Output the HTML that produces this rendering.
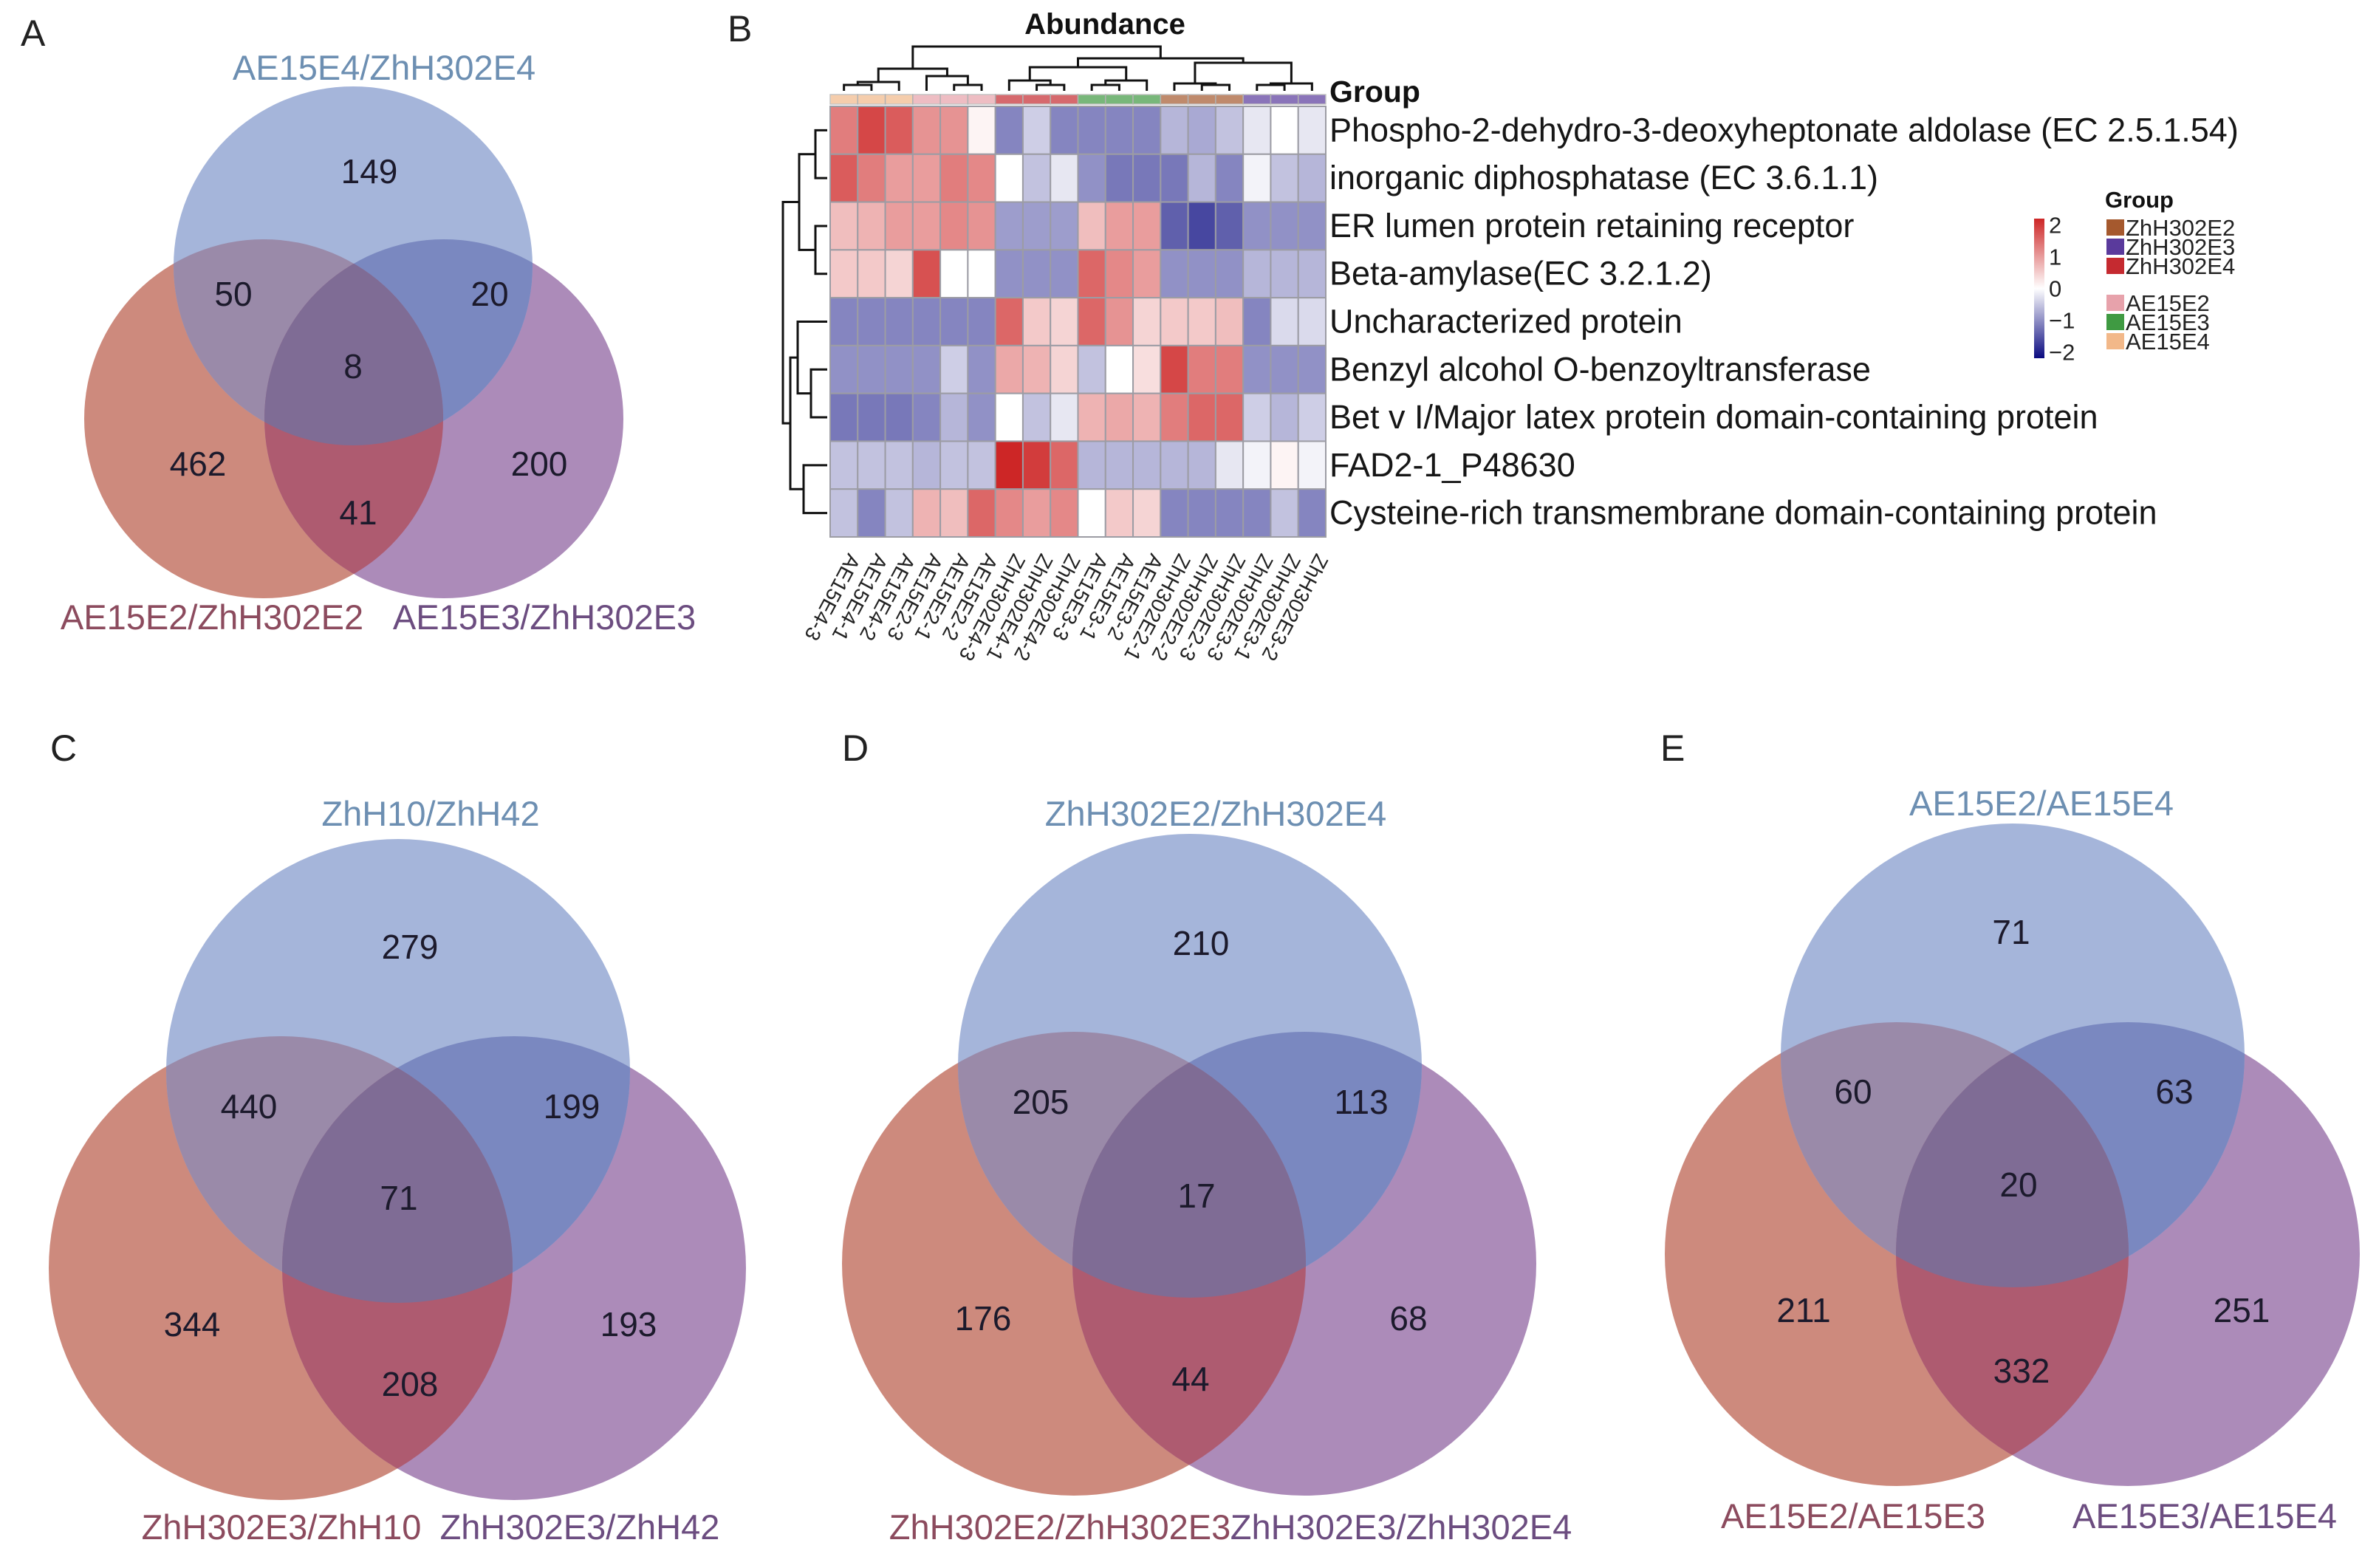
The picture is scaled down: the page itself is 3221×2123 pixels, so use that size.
<!DOCTYPE html>
<html><head><meta charset="utf-8">
<style>
html,body{margin:0;padding:0;background:#fff;}
svg{display:block;font-family:"Liberation Sans",Arial,sans-serif;}
</style></head>
<body>
<svg id="fig" width="3221" height="2123" viewBox="0 0 3221 2123" xmlns="http://www.w3.org/2000/svg">
<rect width="3221" height="2123" fill="#fff"/>
<g id="venns"></g>
<g id="heat"></g>
</svg>
<script>
// ---------- Venn data ----------
const vennLetters = ["A","C","D","E"];
const vennTopLabels = ["AE15E4/ZhH302E4","ZhH10/ZhH42","ZhH302E2/ZhH302E4","AE15E2/AE15E4"];
const vennLeftLabels = ["AE15E2/ZhH302E2","ZhH302E3/ZhH10","ZhH302E2/ZhH302E3","AE15E2/AE15E3"];
const vennRightLabels = ["AE15E3/ZhH302E3","ZhH302E3/ZhH42","ZhH302E3/ZhH302E4","AE15E3/AE15E4"];
// counts: [topOnly, top&left, top&right, all, leftOnly, left&right, rightOnly]
const vennCountsA = [149,50,20,8,462,41,200];
const vennCountsC = [279,440,199,71,344,208,193];
const vennCountsD = [210,205,113,17,176,44,68];
const vennCountsE = [71,60,63,20,211,332,251];
const vennCounts = [vennCountsA,vennCountsC,vennCountsD,vennCountsE];

// layout (geometry, not data)
const vennGeom = [
 {letter:[28,62], top:[478,360], left:[357,567], right:[601,567], r:243, tl:[520,108], bl:[287,852], br:[737,852],
  nums:[[500,232],[316,398],[663,398],[478,496],[268,628],[485,694],[730,628]]},
 {letter:[68,1030], top:[539,1450], left:[380,1717], right:[696,1717], r:314, tl:[583,1118], bl:[381,2084], br:[785,2084],
  nums:[[555,1282],[337,1498],[774,1498],[540,1622],[260,1793],[555,1874],[851,1793]]},
 {letter:[1140,1030], top:[1611,1443], left:[1454,1711], right:[1766,1711], r:314, tl:[1646,1118], bl:[1435,2084], br:[1897,2084],
  nums:[[1626,1277],[1409,1492],[1843,1492],[1620,1619],[1331,1785],[1612,1867],[1907,1785]]},
 {letter:[2248,1030], top:[2725,1429], left:[2568,1698], right:[2881,1698], r:314, tl:[2764,1104], bl:[2509,2069], br:[2985,2069],
  nums:[[2723,1262],[2509,1478],[2944,1478],[2733,1604],[2442,1774],[2737,1856],[3035,1774]]}
];
const regionColors = {top:"#a5b5da", left:"#cd8a7d", right:"#ac8bb9", tl:"#9a8aa9", tr:"#7a88c0", lr:"#ae5b70", all:"#7f6c95"};

const NS="http://www.w3.org/2000/svg";
function mk(tag, attrs, parent){const e=document.createElementNS(NS,tag);for(const k in attrs)e.setAttribute(k,attrs[k]);if(parent)parent.appendChild(e);return e;}

const venns=document.getElementById('venns');
const defs=mk('defs',{},document.getElementById('fig'));
vennGeom.forEach((g,pi)=>{
  const grp=mk('g',{},venns);
  
  
  ['top','left','right'].forEach(k=>{
    const cp=mk('clipPath',{id:'cp'+pi+k},defs);
    mk('circle',{cx:g[k][0],cy:g[k][1],r:g.r},cp);
  });
  function circ(k,fill,parent){return mk('circle',{cx:g[k][0],cy:g[k][1],r:g.r,fill:fill},parent);}
  const cL=circ('left',regionColors.left,grp);
  
  
  const cR=circ('right',regionColors.right,grp);
  
  
  const cT=circ('top',regionColors.top,grp);
  
  
  const g1=mk('g',{'clip-path':'url(#cp'+pi+'top)'},grp); circ('left',regionColors.tl,g1);
  const g2=mk('g',{'clip-path':'url(#cp'+pi+'top)'},grp); circ('right',regionColors.tr,g2);
  const g3=mk('g',{'clip-path':'url(#cp'+pi+'left)'},grp); circ('right',regionColors.lr,g3);
  const g4=mk('g',{'clip-path':'url(#cp'+pi+'top)'},grp); const g5=mk('g',{'clip-path':'url(#cp'+pi+'left)'},g4); circ('right',regionColors.all,g5);
  const L=mk('text',{x:g.letter[0],y:g.letter[1],'font-size':50,fill:'#222'},grp); L.textContent=vennLetters[pi];
  
  
  const t1=mk('text',{x:g.tl[0],y:g.tl[1],'font-size':47,fill:'#6d8fb2','text-anchor':'middle'},grp); t1.textContent=vennTopLabels[pi];
  
  
  const t2=mk('text',{x:g.bl[0],y:g.bl[1],'font-size':47,fill:'#8c4b5e','text-anchor':'middle'},grp); t2.textContent=vennLeftLabels[pi];
  
  
  const t3=mk('text',{x:g.br[0],y:g.br[1],'font-size':47,fill:'#6c4d80','text-anchor':'middle'},grp); t3.textContent=vennRightLabels[pi];
  
  
  vennCounts[pi].forEach((v,i)=>{
    const n=mk('text',{x:g.nums[i][0],y:g.nums[i][1]+16,'font-size':46,fill:'#1c1a2c','text-anchor':'middle'},grp);
    n.textContent=v;
    
    
  });
});

// ---------- Heatmap data ----------
const rowLabels = ["Phospho-2-dehydro-3-deoxyheptonate aldolase (EC 2.5.1.54)","inorganic diphosphatase (EC 3.6.1.1)","ER lumen protein retaining receptor","Beta-amylase(EC 3.2.1.2)","Uncharacterized protein","Benzyl alcohol O-benzoyltransferase","Bet v I/Major latex protein domain-containing protein","FAD2-1_P48630","Cysteine-rich transmembrane domain-containing protein"];
const colLabels = ["AE15E4-3","AE15E4-1","AE15E4-2","AE15E2-3","AE15E2-1","AE15E2-2","ZhH302E4-3","ZhH302E4-1","ZhH302E4-2","AE15E3-3","AE15E3-1","AE15E3-2","ZhH302E2-1","ZhH302E2-2","ZhH302E2-3","ZhH302E3-3","ZhH302E3-1","ZhH302E3-2"];
const colGroups = ["AE15E4","AE15E4","AE15E4","AE15E2","AE15E2","AE15E2","ZhH302E4","ZhH302E4","ZhH302E4","AE15E3","AE15E3","AE15E3","ZhH302E2","ZhH302E2","ZhH302E2","ZhH302E3","ZhH302E3","ZhH302E3"];
const row1 = [1.2,1.7,1.5,1.0,1.0,0.1,-1.0,-0.4,-1.0,-1.0,-1.0,-1.0,-0.6,-0.7,-0.5,-0.2,0.0,-0.2];
const row2 = [1.5,1.2,0.9,0.9,1.2,1.1,0.0,-0.5,-0.2,-0.9,-1.1,-1.1,-1.1,-0.6,-1.0,-0.1,-0.5,-0.6];
const row3 = [0.6,0.7,0.9,0.9,1.1,1.0,-0.8,-0.8,-0.8,0.6,0.9,0.9,-1.3,-1.5,-1.3,-0.9,-0.9,-0.9];
const row4 = [0.5,0.5,0.4,1.6,0.0,0.0,-0.9,-0.9,-0.9,1.4,1.1,0.9,-0.9,-0.9,-0.9,-0.6,-0.6,-0.6];
const row5 = [-1.0,-1.0,-1.0,-1.0,-1.0,-1.0,1.4,0.5,0.4,1.4,1.0,0.4,0.5,0.5,0.6,-1.0,-0.3,-0.3];
const row6 = [-0.9,-0.9,-0.9,-0.9,-0.4,-0.9,0.8,0.7,0.4,-0.5,0.0,0.3,1.7,1.2,1.2,-0.9,-0.9,-0.9];
const row7 = [-1.1,-1.1,-1.1,-1.0,-0.6,-0.9,0.0,-0.5,-0.2,0.7,0.8,0.7,1.2,1.4,1.4,-0.4,-0.6,-0.4];
const row8 = [-0.5,-0.5,-0.5,-0.6,-0.5,-0.5,2.0,1.8,1.4,-0.6,-0.6,-0.6,-0.6,-0.6,-0.2,-0.1,0.1,-0.1];
const row9 = [-0.5,-1.0,-0.5,0.7,0.6,1.4,1.1,0.9,1.1,0.0,0.5,0.4,-1.0,-1.0,-1.0,-1.0,-0.5,-1.0];
const heatRows = [row1,row2,row3,row4,row5,row6,row7,row8,row9];
const legendGroups = ["ZhH302E2","ZhH302E3","ZhH302E4","AE15E2","AE15E3","AE15E4"];
const legendTicks = ["2","1","0","\u22121","\u22122"];
const legendTickVals = [2,1,0,-1,-2];
const colMerges = [[0,1,8],[18,2,12],[4,5,8],[3,20,20],[19,21,30],[7,8,8],[6,23,14],[9,10,8],[25,11,14],[24,26,32],[13,14,8],[12,28,10],[15,16,8],[30,17,10],[29,31,38],[27,32,44],[22,33,60]];
const rowMerges = [[0,1,16],[2,3,16],[9,10,38],[5,6,22],[4,12,40],[7,8,32],[13,14,50],[11,15,60]];

const groupColors = {ZhH302E2:"#a5592e",ZhH302E3:"#5a3a9c",ZhH302E4:"#c52a30",AE15E2:"#e7a2ab",AE15E3:"#3f9a42",AE15E4:"#f2b889"};

const heat=document.getElementById('heat');
const HX0=1124, HX1=1795, HY0=144, HY1=727;
const nC=colLabels.length, nR=rowLabels.length;
const cw=(HX1-HX0)/nC, rh=(HY1-HY0)/nR;
const xOf=i=>HX0+cw*i, yOf=j=>HY0+rh*j;
function colorOf(v){
  v=Math.max(-2,Math.min(2,v));
  let c;
  if(v>=0){const t=v/2;c=[255+(205-255)*t,255+(38-255)*t,255+(38-255)*t];}
  else{const t=-v/2;c=[255+(10-255)*t,255+(10-255)*t,255+(128-255)*t];}
  return 'rgb('+c.map(Math.round).join(',')+')';
}
const title=mk('text',{x:1496,y:46,'font-size':40,'font-weight':'bold','text-anchor':'middle',fill:'#111'},heat);
title.textContent='Abundance';


const bL=mk('text',{x:985,y:56,'font-size':50,fill:'#222'},heat); bL.textContent='B';


colGroups.forEach((gname,i)=>{
  const r=mk('rect',{x:xOf(i),y:128,width:cw,height:13,fill:groupColors[gname],stroke:'#aaa','stroke-width':1.5,opacity:0.7},heat);
  
  
});
heatRows.forEach((row,j)=>{
  row.forEach((v,i)=>{
    const r=mk('rect',{x:xOf(i),y:yOf(j),width:cw,height:rh,fill:colorOf(v),stroke:'#9c9ca4','stroke-width':2},heat);
    
    
  });
  const t=mk('text',{x:1800,y:yOf(j)+rh/2+15,'font-size':45,fill:'#161616'},heat);
  t.textContent=rowLabels[j];
  
  
});
const gT=mk('text',{x:1800,y:138,'font-size':41,'font-weight':'bold',fill:'#111'},heat); gT.textContent='Group';


colLabels.forEach((lab,i)=>{
  const cx=xOf(i)+cw/2+6, cy=748;
  const t=mk('text',{x:cx,y:cy,'font-size':28,fill:'#222',transform:'rotate(118 '+cx+' '+cy+')'},heat);
  t.textContent=lab;
  
  
});
(function(){
  const pos=[],hgt=[];
  for(let i=0;i<nC;i++){pos.push(xOf(i)+cw/2);hgt.push(0);}
  const base=127;
  const dg=mk('g',{stroke:'#111','stroke-width':3,fill:'none'},heat);
  
  
  colMerges.forEach(m=>{
    const [a,b,h]=m; const ya=base-hgt[a]-4, yb=base-hgt[b]-4, y=base-h-4;
    mk('path',{d:`M${pos[a]},${ya}V${y}H${pos[b]}V${yb}`},dg);
    pos.push((pos[a]+pos[b])/2); hgt.push(h);
  });
})();
(function(){
  const pos=[],w=[];
  for(let j=0;j<nR;j++){pos.push(yOf(j)+rh/2);w.push(0);}
  const base=HX0-4;
  const dg=mk('g',{stroke:'#111','stroke-width':3,fill:'none'},heat);
  
  
  rowMerges.forEach(m=>{
    const [a,b,h]=m; const xa=base-w[a], xb=base-w[b], x=base-h;
    mk('path',{d:`M${xa},${pos[a]}H${x}V${pos[b]}H${xb}`},dg);
    pos.push((pos[a]+pos[b])/2); w.push(h);
  });
})();
(function(){
  const lg=mk('g',{},heat);
  
  
  const gd=mk('linearGradient',{id:'cbar',x1:0,y1:0,x2:0,y2:1},defs);
  [[0,colorOf(2.2)],[0.5,colorOf(0)],[1,colorOf(-2.2)]].forEach(s=>mk('stop',{offset:s[0],'stop-color':s[1]},gd));
  const y0=296,y1=485;
  mk('rect',{x:2754,y:y0,width:14,height:y1-y0,fill:'url(#cbar)'},lg);
  legendTicks.forEach((t,i)=>{
    const v=legendTickVals[i]; const y=y0+(2.2-v)/4.4*(y1-y0);
    const tx=mk('text',{x:2774,y:y+11,'font-size':31,fill:'#222'},lg); tx.textContent=t;
  });
  const gl=mk('g',{},heat);
  
  
  const gt=mk('text',{x:2850,y:281,'font-size':31,'font-weight':'bold',fill:'#111'},gl); gt.textContent='Group';
  const ys=[308,334,360,410,436,462];
  legendGroups.forEach((gname,i)=>{
    mk('rect',{x:2852,y:ys[i]-11,width:24,height:22,fill:groupColors[gname]},gl);
    const t=mk('text',{x:2878,y:ys[i]+11,'font-size':31,fill:'#222'},gl); t.textContent=gname;
  });
})();
</script>
</body></html>
